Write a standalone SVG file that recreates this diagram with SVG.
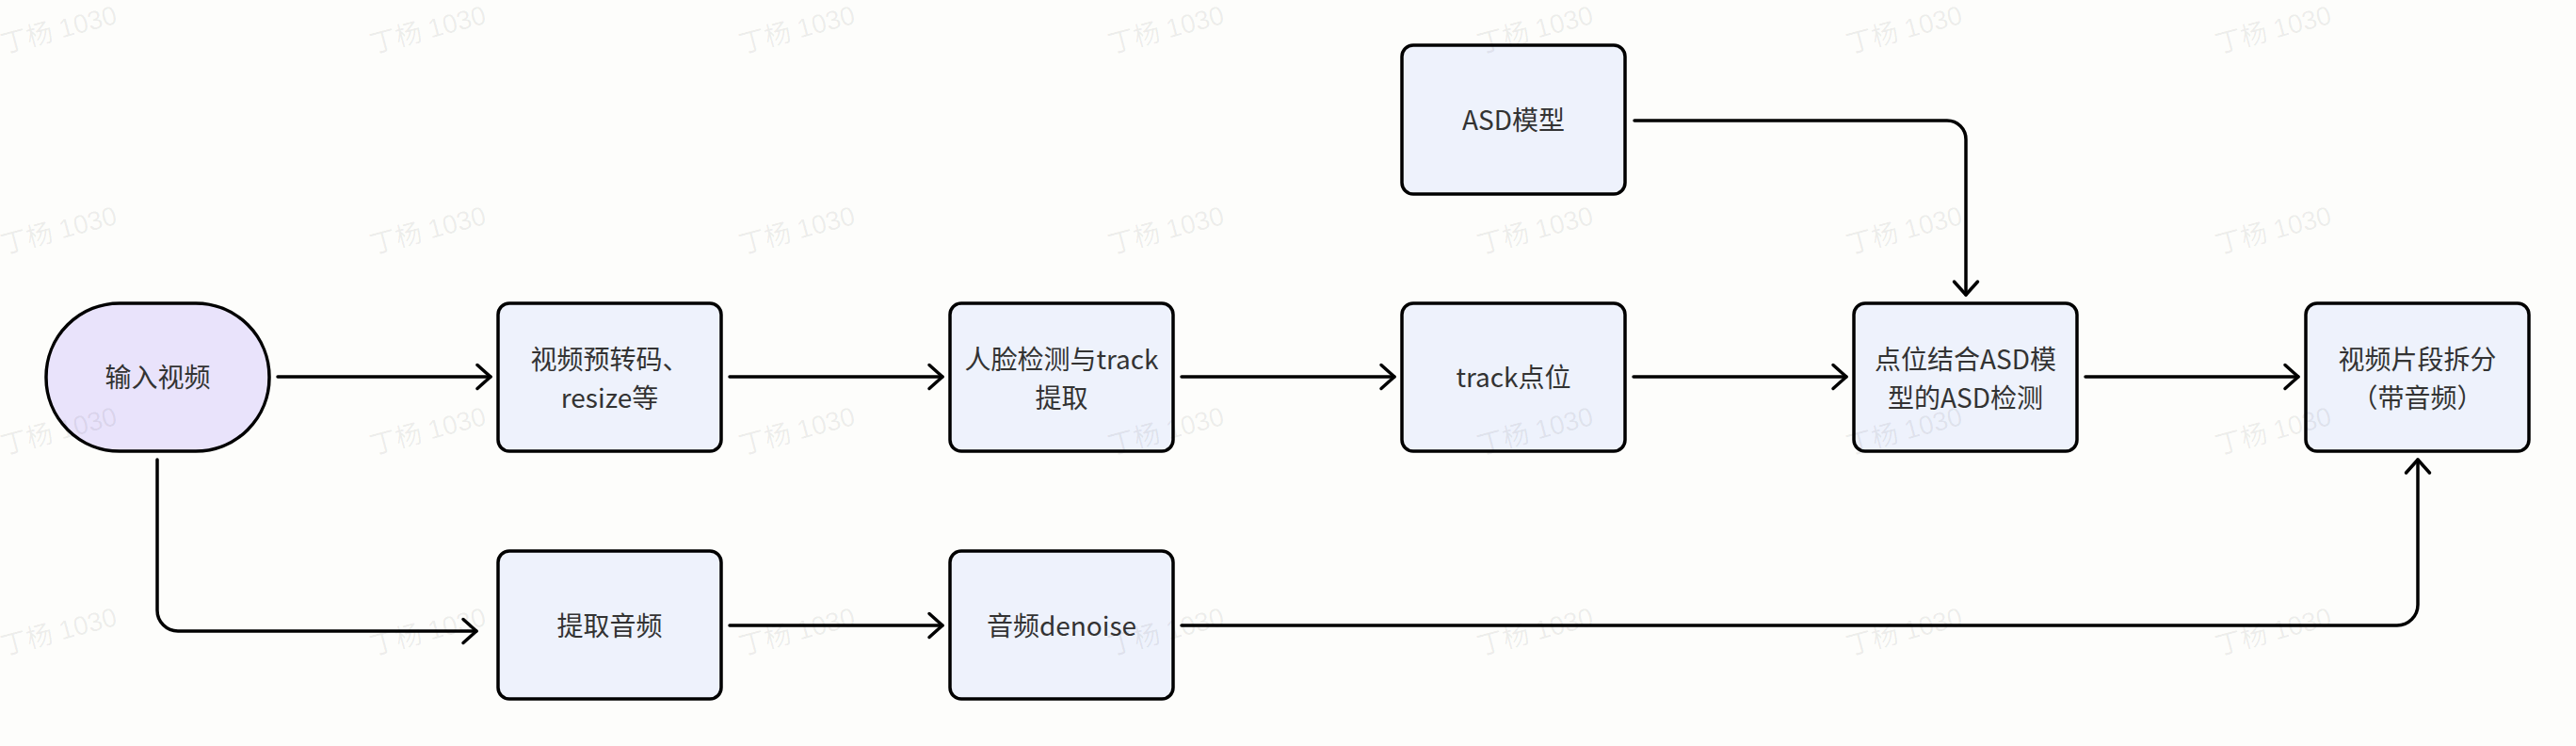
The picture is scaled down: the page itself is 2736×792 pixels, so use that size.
<svg xmlns="http://www.w3.org/2000/svg" width="2736" height="792" viewBox="0 0 2736 792">
<defs>
<style>
.box{fill:#eef2fc;stroke:#000;stroke-width:3.5}
.pill{fill:#e9e3fb;stroke:#000;stroke-width:3.5}
.t{font-family:"Noto Sans CJK SC","Noto Sans",sans-serif;font-size:28px;fill:#333;text-anchor:middle}
.c{fill:none;stroke:#000;stroke-width:3.5;stroke-linecap:round;stroke-linejoin:round}
.wm{font-family:"Liberation Sans","Noto Sans CJK SC",sans-serif;font-size:28px;fill:#000;fill-opacity:0.07}
</style>
<marker id="arr" markerUnits="userSpaceOnUse" markerWidth="24" markerHeight="30" viewBox="-20 -15 24 30" refX="0" refY="0" orient="auto">
<path d="M-14,-12.5 L0,0 L-14,12.5" fill="none" stroke="#000" stroke-width="3.5" stroke-linecap="round" stroke-linejoin="round"/>
</marker>
</defs>
<rect width="2736" height="792" fill="#fdfdfb"/>
<g id="connectors">
<path class="c" d="M295,400 H521" marker-end="url(#arr)"/>
<path class="c" d="M775,400 H1001" marker-end="url(#arr)"/>
<path class="c" d="M1255,400 H1481" marker-end="url(#arr)"/>
<path class="c" d="M1735,400 H1961" marker-end="url(#arr)"/>
<path class="c" d="M2215,400 H2441" marker-end="url(#arr)"/>
<path class="c" d="M1736,128 H2068 A20,20 0 0 1 2088,148 V313" marker-end="url(#arr)"/>
<path class="c" d="M167,488 V648 A22,22 0 0 0 189,670 H506" marker-end="url(#arr)"/>
<path class="c" d="M775,664 H1001" marker-end="url(#arr)"/>
<path class="c" d="M1255,664 H2546 A22,22 0 0 0 2568,642 V488" marker-end="url(#arr)"/>
</g>
<g id="n1"><rect class="pill" x="49" y="322" width="237" height="157" rx="78" ry="78"/><text class="t" x="167.5" y="411">输入视频</text></g>
<g id="n2"><rect class="box" x="529" y="322" width="237" height="157" rx="12"/><text class="t" x="647.5" y="392">视频预转码、</text><text class="t" x="647.5" y="433">resize等</text></g>
<g id="n3"><rect class="box" x="1009" y="322" width="237" height="157" rx="12"/><text class="t" x="1127.5" y="392">人脸检测与track</text><text class="t" x="1127.5" y="433">提取</text></g>
<g id="n4"><rect class="box" x="1489" y="322" width="237" height="157" rx="12"/><text class="t" x="1607.5" y="411">track点位</text></g>
<g id="n5"><rect class="box" x="1969" y="322" width="237" height="157" rx="12"/><text class="t" x="2087.5" y="392">点位结合ASD模</text><text class="t" x="2087.5" y="433">型的ASD检测</text></g>
<g id="n6"><rect class="box" x="2449" y="322" width="237" height="157" rx="12"/><text class="t" x="2567.5" y="392">视频片段拆分</text><text class="t" x="2567.5" y="433">（带音频）</text></g>
<g id="n7"><rect class="box" x="1489" y="48" width="237" height="158" rx="12"/><text class="t" x="1607.5" y="138">ASD模型</text></g>
<g id="n8"><rect class="box" x="529" y="585" width="237" height="157" rx="12"/><text class="t" x="647.5" y="675">提取音频</text></g>
<g id="n9"><rect class="box" x="1009" y="585" width="237" height="157" rx="12"/><text class="t" x="1127.5" y="675">音频denoise</text></g>
<g id="watermarks">
<text class="wm" transform="translate(4,57) rotate(-15)">丁杨 1030</text>
<text class="wm" transform="translate(396,57) rotate(-15)">丁杨 1030</text>
<text class="wm" transform="translate(788,57) rotate(-15)">丁杨 1030</text>
<text class="wm" transform="translate(1180,57) rotate(-15)">丁杨 1030</text>
<text class="wm" transform="translate(1572,57) rotate(-15)">丁杨 1030</text>
<text class="wm" transform="translate(1964,57) rotate(-15)">丁杨 1030</text>
<text class="wm" transform="translate(2356,57) rotate(-15)">丁杨 1030</text>
<text class="wm" transform="translate(4,270) rotate(-15)">丁杨 1030</text>
<text class="wm" transform="translate(396,270) rotate(-15)">丁杨 1030</text>
<text class="wm" transform="translate(788,270) rotate(-15)">丁杨 1030</text>
<text class="wm" transform="translate(1180,270) rotate(-15)">丁杨 1030</text>
<text class="wm" transform="translate(1572,270) rotate(-15)">丁杨 1030</text>
<text class="wm" transform="translate(1964,270) rotate(-15)">丁杨 1030</text>
<text class="wm" transform="translate(2356,270) rotate(-15)">丁杨 1030</text>
<text class="wm" transform="translate(4,483) rotate(-15)">丁杨 1030</text>
<text class="wm" transform="translate(396,483) rotate(-15)">丁杨 1030</text>
<text class="wm" transform="translate(788,483) rotate(-15)">丁杨 1030</text>
<text class="wm" transform="translate(1180,483) rotate(-15)">丁杨 1030</text>
<text class="wm" transform="translate(1572,483) rotate(-15)">丁杨 1030</text>
<text class="wm" transform="translate(1964,483) rotate(-15)">丁杨 1030</text>
<text class="wm" transform="translate(2356,483) rotate(-15)">丁杨 1030</text>
<text class="wm" transform="translate(4,696) rotate(-15)">丁杨 1030</text>
<text class="wm" transform="translate(396,696) rotate(-15)">丁杨 1030</text>
<text class="wm" transform="translate(788,696) rotate(-15)">丁杨 1030</text>
<text class="wm" transform="translate(1180,696) rotate(-15)">丁杨 1030</text>
<text class="wm" transform="translate(1572,696) rotate(-15)">丁杨 1030</text>
<text class="wm" transform="translate(1964,696) rotate(-15)">丁杨 1030</text>
<text class="wm" transform="translate(2356,696) rotate(-15)">丁杨 1030</text>
</g>
</svg>
